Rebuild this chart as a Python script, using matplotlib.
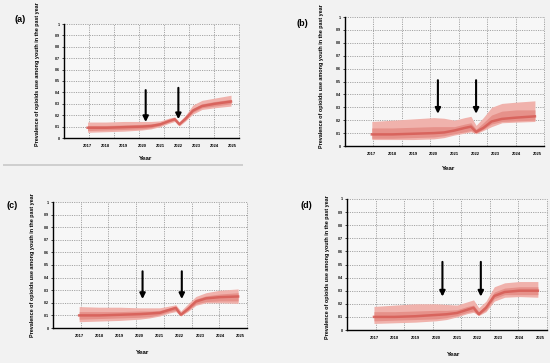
import matplotlib
matplotlib.use("Agg")
import matplotlib.pyplot as plt
from matplotlib.patches import Rectangle

W, H = 550, 363

# time knots (years) shared by all panels
t = [2017, 2018, 2019, 2020, 2020.5, 2021, 2021.5, 2021.8, 2022.05, 2022.4, 2022.8, 2023.3, 2024, 2024.9]

# panel (a)
a_out_lo = [0.05, 0.055, 0.06, 0.07, 0.08, 0.10, 0.13, 0.145, 0.105, 0.15, 0.21, 0.25, 0.265, 0.28]
a_out_hi = [0.14, 0.14, 0.145, 0.145, 0.145, 0.15, 0.175, 0.185, 0.14, 0.20, 0.29, 0.33, 0.35, 0.375]
a_in_lo = [0.065, 0.07, 0.075, 0.08, 0.09, 0.11, 0.14, 0.155, 0.115, 0.16, 0.225, 0.265, 0.28, 0.30]
a_in_hi = [0.11, 0.11, 0.115, 0.12, 0.125, 0.135, 0.16, 0.175, 0.13, 0.185, 0.26, 0.30, 0.32, 0.34]
a_mid = [0.09, 0.09, 0.095, 0.10, 0.105, 0.12, 0.15, 0.165, 0.12, 0.17, 0.24, 0.28, 0.30, 0.32]

# panel (b)
b_out_lo = [0.05, 0.05, 0.05, 0.055, 0.065, 0.085, 0.10, 0.11, 0.095, 0.12, 0.15, 0.18, 0.185, 0.19]
b_out_hi = [0.19, 0.20, 0.21, 0.22, 0.215, 0.20, 0.22, 0.23, 0.16, 0.22, 0.30, 0.33, 0.34, 0.35]
b_in_lo = [0.06, 0.06, 0.065, 0.07, 0.08, 0.095, 0.11, 0.12, 0.10, 0.13, 0.17, 0.19, 0.195, 0.20]
b_in_hi = [0.14, 0.14, 0.145, 0.15, 0.15, 0.15, 0.17, 0.18, 0.13, 0.18, 0.24, 0.27, 0.28, 0.28]
b_mid = [0.09, 0.09, 0.095, 0.10, 0.105, 0.12, 0.14, 0.15, 0.11, 0.14, 0.19, 0.21, 0.22, 0.23]

# panel (c)
c_out_lo = [0.05, 0.055, 0.06, 0.07, 0.08, 0.095, 0.12, 0.13, 0.095, 0.13, 0.18, 0.20, 0.20, 0.195]
c_out_hi = [0.17, 0.165, 0.165, 0.16, 0.16, 0.16, 0.175, 0.185, 0.135, 0.19, 0.25, 0.28, 0.30, 0.31]
c_in_lo = [0.07, 0.075, 0.08, 0.085, 0.09, 0.105, 0.13, 0.14, 0.10, 0.14, 0.19, 0.21, 0.215, 0.215]
c_in_hi = [0.13, 0.13, 0.13, 0.135, 0.135, 0.14, 0.16, 0.17, 0.12, 0.17, 0.23, 0.255, 0.27, 0.28]
c_mid = [0.10, 0.10, 0.105, 0.11, 0.115, 0.12, 0.145, 0.16, 0.105, 0.15, 0.21, 0.235, 0.245, 0.25]

# panel (d)
d_out_lo = [0.05, 0.055, 0.06, 0.07, 0.08, 0.10, 0.125, 0.135, 0.11, 0.14, 0.22, 0.25, 0.255, 0.25]
d_out_hi = [0.18, 0.19, 0.20, 0.20, 0.195, 0.19, 0.215, 0.23, 0.17, 0.22, 0.33, 0.36, 0.37, 0.37]
d_in_lo = [0.07, 0.075, 0.08, 0.085, 0.095, 0.11, 0.135, 0.145, 0.115, 0.15, 0.24, 0.27, 0.27, 0.27]
d_in_hi = [0.14, 0.14, 0.145, 0.15, 0.15, 0.155, 0.18, 0.19, 0.14, 0.19, 0.29, 0.32, 0.33, 0.33]
d_mid = [0.10, 0.10, 0.105, 0.115, 0.12, 0.13, 0.155, 0.17, 0.12, 0.17, 0.26, 0.29, 0.30, 0.30]

year_labels = ["2017", "2018", "2019", "2020", "2021", "2022", "2023", "2024", "2025"]
year_pos = [2017, 2018, 2019, 2020, 2021, 2022, 2023, 2024, 2025]
ytick_vals = [0, 0.1, 0.2, 0.3, 0.4, 0.5, 0.6, 0.7, 0.8, 0.9, 1.0]
ytick_labels = ["0", "0.1", "0.2", "0.3", "0.4", "0.5", "0.6", "0.7", "0.8", "0.9", "1"]

# arrows: (x, y_top, y_tip) for each panel
arrows = {
    "a": [(2020.2, 0.42, 0.14), (2022.0, 0.44, 0.165)],
    "b": [(2020.2, 0.51, 0.25), (2022.05, 0.51, 0.25)],
    "c": [(2020.15, 0.45, 0.23), (2022.1, 0.45, 0.23)],
    "d": [(2020.3, 0.52, 0.255), (2022.15, 0.52, 0.255)],
}

panels = {
    "a": dict(box=(64, 239, 24, 138), data=(a_out_lo, a_out_hi, a_in_lo, a_in_hi, a_mid),
              lab=(20, 20), ylab=(38, 74), year=(146, 159), sep=(3, 243, 165, 2.5)),
    "b": dict(box=(345, 544, 17, 146), data=(b_out_lo, b_out_hi, b_in_lo, b_in_hi, b_mid),
              lab=(302, 24), ylab=(322, 76), year=(449, 168), sep=(277, 502, 177, 0.8)),
    "c": dict(box=(53, 247, 202, 328), data=(c_out_lo, c_out_hi, c_in_lo, c_in_hi, c_mid),
              lab=(12, 205), ylab=(33, 265), year=(143, 353), sep=None),
    "d": dict(box=(347, 547, 199, 330), data=(d_out_lo, d_out_hi, d_in_lo, d_in_hi, d_mid),
              lab=(306, 206), ylab=(327, 267), year=(454, 355), sep=None),
}

FONT = "Liberation Sans"
fig = plt.figure(figsize=(W / 100, H / 100), dpi=100, facecolor="#f2f2f2")

def fx(px):
    return px / W

def fy(py):
    return 1 - py / H

grid_kw = dict(color="#8e8e8e", lw=0.55, ls=(0, (1.5, 1.5)))

for key, p in panels.items():
    l, r, tp, bt = p["box"]
    ax = fig.add_axes([fx(l), fy(bt), (r - l) / W, (bt - tp) / H])
    ax.set_facecolor("#f7f7f7")
    ax.set_xlim(2015.7, 2025.34)
    ax.set_ylim(0, 1)
    out_lo, out_hi, in_lo, in_hi, mid = p["data"]
    ax.fill_between(t, out_lo, out_hi, color="#f0b2ac", lw=0, zorder=2)
    ax.fill_between(t, in_lo, in_hi, color="#e6918a", lw=0, zorder=3)
    ax.plot(t, mid, color="#d65c56", lw=1.8, alpha=0.85, zorder=4)
    # grid
    for yv in ytick_vals[1:]:
        ax.axhline(yv, zorder=1, clip_on=False, **grid_kw)
    for k in range(1, 8):
        ax.plot([k / 7, k / 7], [0, 1], transform=ax.transAxes, zorder=1, clip_on=False, **grid_kw)
    for s in ["top", "right"]:
        ax.spines[s].set_visible(False)
    ax.spines["left"].set_linewidth(1.0)
    ax.spines["bottom"].set_linewidth(1.0)
    ax.set_yticks(ytick_vals)
    ax.set_yticklabels(ytick_labels, fontsize=2.6, fontweight="bold", family=FONT)
    ax.set_xticks(year_pos)
    ax.set_xticklabels(year_labels, fontsize=3.0, fontweight="bold", family=FONT)
    ax.tick_params(axis="y", length=1.2, width=0.5, pad=1.5)
    ax.tick_params(axis="x", length=0, pad=4)
    for (xa, ytop, ytip) in arrows[key]:
        ax.annotate("", xy=(xa, ytip), xytext=(xa, ytop),
                    arrowprops=dict(arrowstyle="-|>", lw=1.5, color="black",
                                    mutation_scale=8, shrinkA=0, shrinkB=0), zorder=6)
    fig.text(fx(p["lab"][0]), fy(p["lab"][1]), f"({key})", fontsize=6.5, fontweight="bold",
             family=FONT, ha="center", va="center")
    fig.text(fx(p["ylab"][0]), fy(p["ylab"][1]),
             "Prevalence of opioids use among youth in the past year",
             rotation=90, fontsize=3.9, fontweight="bold", family=FONT, ha="center", va="center")
    fig.text(fx(p["year"][0]), fy(p["year"][1]), "Year", fontsize=4.6, fontweight="bold",
             family=FONT, ha="center", va="center")
    if p["sep"] is not None:
        x0, x1, ys, hh = p["sep"]
        fig.add_artist(Rectangle((fx(x0), fy(ys + hh / 2)), (x1 - x0) / W, hh / H,
                                 transform=fig.transFigure, color="#cfcfcf", lw=0))

fig.savefig("out.png", dpi=100, facecolor=fig.get_facecolor())
